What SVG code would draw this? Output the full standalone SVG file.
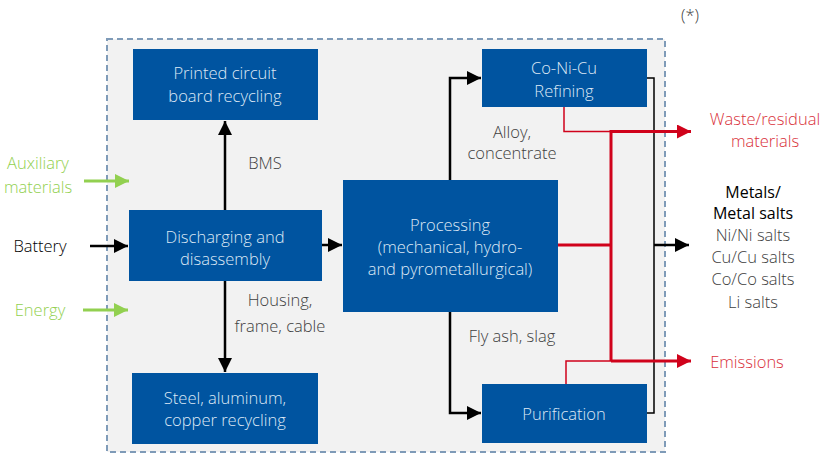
<svg xmlns="http://www.w3.org/2000/svg" width="830" height="454" viewBox="0 0 830 454">
<defs>
<style>
.box{fill:#0054a0;}
.bt{font-family:"Open Sans","Noto Sans",sans-serif;font-size:16.5px;font-weight:300;fill:#dde8f5;text-anchor:middle;}
.lbl{font-family:"Open Sans","Noto Sans",sans-serif;font-size:16.5px;font-weight:300;fill:#404040;text-anchor:middle;}
.red{fill:#d9303a;}
.grn{fill:#92d050;}
.blk{stroke:#000;stroke-width:2.5;fill:none;}
.thin{stroke:#000;stroke-width:1.5;fill:none;}
.rt{stroke:#d0021b;stroke-width:3;fill:none;}
.rthin{stroke:#d0021b;stroke-width:1.5;fill:none;}
.gl{stroke:#92d050;stroke-width:3;fill:none;}
</style>
<marker id="ab" markerUnits="userSpaceOnUse" markerWidth="16" markerHeight="16" refX="14" refY="7" orient="auto"><path d="M0,0 L14,7 L0,14 Z" fill="#000"/></marker>
<marker id="ar" markerUnits="userSpaceOnUse" markerWidth="16" markerHeight="16" refX="14" refY="7" orient="auto"><path d="M0,0 L14,7 L0,14 Z" fill="#d0021b"/></marker>
<marker id="ag" markerUnits="userSpaceOnUse" markerWidth="16" markerHeight="16" refX="14" refY="7" orient="auto"><path d="M0,0 L14,7 L0,14 Z" fill="#92d050"/></marker>
</defs>
<rect width="830" height="454" fill="#fff"/>
<rect x="107" y="39" width="558" height="413" fill="#f2f2f2" stroke="#7f9bb8" stroke-width="2" stroke-dasharray="6,4"/>

<g id="connectors">
<path class="blk" d="M225,210 V121" marker-end="url(#ab)"/>
<path class="blk" d="M225,281 V372" marker-end="url(#ab)"/>
<path class="blk" d="M322,245 H342" marker-end="url(#ab)"/>
<path class="blk" d="M90,246 H128" marker-end="url(#ab)"/>
<path class="blk" d="M450,180 V78 H481" marker-end="url(#ab)"/>
<path class="blk" d="M450,312 V413 H481" marker-end="url(#ab)"/>
<path class="thin" d="M647,78 H654 V413 H647"/>
<path class="blk" d="M654,245 H689" marker-end="url(#ab)"/>
<path class="rt" d="M558,245 H611"/>
<path class="rt" d="M611,361 V131.5 H691" marker-end="url(#ar)"/>
<path class="rt" d="M611,361 H691" marker-end="url(#ar)"/>
<path class="rthin" d="M564,107 V131.5 H611"/>
<path class="rthin" d="M566,384 V361 H611"/>
<path class="gl" d="M84,181 H129" marker-end="url(#ag)"/>
<path class="gl" d="M83,310 H128" marker-end="url(#ag)"/>
</g>

<g id="pcb"><rect class="box" x="133" y="49" width="185" height="71"/>
<text class="bt" x="225" y="79">Printed circuit</text><text class="bt" x="225" y="102">board recycling</text></g>
<g id="discharging"><rect class="box" x="129" y="210" width="193" height="71"/>
<text class="bt" x="225" y="243">Discharging and</text><text class="bt" x="225" y="265">disassembly</text></g>
<g id="steel"><rect class="box" x="132" y="373" width="186" height="71"/>
<text class="bt" x="225" y="404">Steel, aluminum,</text><text class="bt" x="225" y="426">copper recycling</text></g>
<g id="processing"><rect class="box" x="343" y="180" width="215" height="132"/>
<text class="bt" x="450" y="231">Processing</text><text class="bt" x="450" y="253">(mechanical, hydro-</text><text class="bt" x="450" y="275">and pyrometallurgical)</text></g>
<g id="refining"><rect class="box" x="482" y="49" width="165" height="58"/>
<text class="bt" x="564" y="74">Co-Ni-Cu</text><text class="bt" x="564" y="97">Refining</text></g>
<g id="purification"><rect class="box" x="482" y="384" width="165" height="59"/>
<text class="bt" x="564" y="420">Purification</text></g>

<g id="labels">
<text class="lbl" x="690" y="21">(*)</text>
<text class="lbl grn" x="38" y="169">Auxiliary</text>
<text class="lbl grn" x="38" y="193">materials</text>
<text class="lbl" x="40" y="252" style="fill:#000">Battery</text>
<text class="lbl grn" x="40" y="316">Energy</text>
<text class="lbl" x="265" y="169">BMS</text>
<text class="lbl" x="280" y="306">Housing,</text>
<text class="lbl" x="280" y="332">frame, cable</text>
<text class="lbl" x="512" y="138">Alloy,</text>
<text class="lbl" x="512" y="159">concentrate</text>
<text class="lbl" x="512" y="342">Fly ash, slag</text>
<text class="lbl red" x="765" y="125">Waste/residual</text>
<text class="lbl red" x="765" y="147">materials</text>
<text class="lbl" x="753" y="198" style="fill:#000;font-weight:400;font-size:16px">Metals/</text>
<text class="lbl" x="753" y="219" style="fill:#000;font-weight:400;font-size:16px">Metal salts</text>
<text class="lbl" x="753" y="241">Ni/Ni salts</text>
<text class="lbl" x="753" y="263">Cu/Cu salts</text>
<text class="lbl" x="753" y="285">Co/Co salts</text>
<text class="lbl" x="753" y="308">Li salts</text>
<text class="lbl red" x="747" y="368">Emissions</text>
</g>
</svg>
